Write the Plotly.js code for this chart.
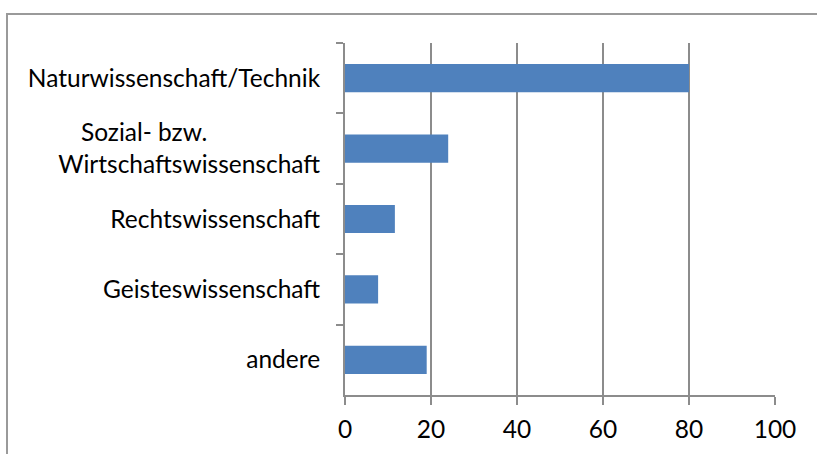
<!DOCTYPE html>
<html>
<head>
<meta charset="utf-8">
<script src="https://cdn.plot.ly/plotly-3.0.1.min.js"></script>
<style>
html,body{margin:0;padding:0;overflow:hidden;background:#fff;}
#wrap{position:relative;width:817px;height:454px;overflow:hidden;}
#chart{position:absolute;left:0;top:0;width:817px;height:454px;}
#frame{position:absolute;left:6px;top:13px;width:900px;height:600px;border:2px solid #9a9a9a;box-sizing:border-box;pointer-events:none;}
</style>
</head>
<body>
<div id="wrap"><div id="chart"></div><div id="frame"></div></div>
<script>
const pad = "\u00a0".repeat(18);
const categories = [
  "Naturwissenschaft/Technik",
  "Sozial- bzw." + pad + "<br>Wirtschaftswissenschaft",
  "Rechtswissenschaft",
  "Geisteswissenschaft",
  "andere"
];
const values = [80, 24, 11.6, 7.7, 19];
const xTicks = [0, 20, 40, 60, 80, 100];

const font = {family: "Lato, 'Open Sans', sans-serif", size: 24.5, color: "#000"};

Plotly.newPlot("chart", [{
  type: "bar",
  orientation: "h",
  y: categories,
  x: values,
  marker: {color: "#4F81BD", line: {width: 0}},
  hoverinfo: "skip"
}], {
  width: 817, height: 454,
  margin: {l: 345, r: 42, t: 43, b: 59, pad: 0},
  paper_bgcolor: "#fff", plot_bgcolor: "#fff",
  bargap: 0.6,
  showlegend: false,
  font: font,
  xaxis: {
    range: [0, 100],
    tickvals: xTicks,
    ticktext: xTicks.map(String),
    showgrid: true, gridcolor: "#8c8c8c", gridwidth: 2,
    showline: true, linecolor: "#8c8c8c", linewidth: 2,
    ticks: "outside", ticklen: 8, tickwidth: 2, tickcolor: "#8c8c8c",
    zeroline: false,
    tickfont: font,
    ticklabelstandoff: 4,
    fixedrange: true
  },
  yaxis: {
    type: "category",
    autorange: "reversed",
    tickson: "boundaries",
    showgrid: false,
    showline: true, linecolor: "#8c8c8c", linewidth: 2,
    ticks: "outside", ticklen: 7, tickwidth: 2, tickcolor: "#8c8c8c",
    zeroline: false,
    tickfont: font,
    ticklabelstandoff: 18,
    fixedrange: true
  }
}, {staticPlot: true, displayModeBar: false});
</script>
</body>
</html>
